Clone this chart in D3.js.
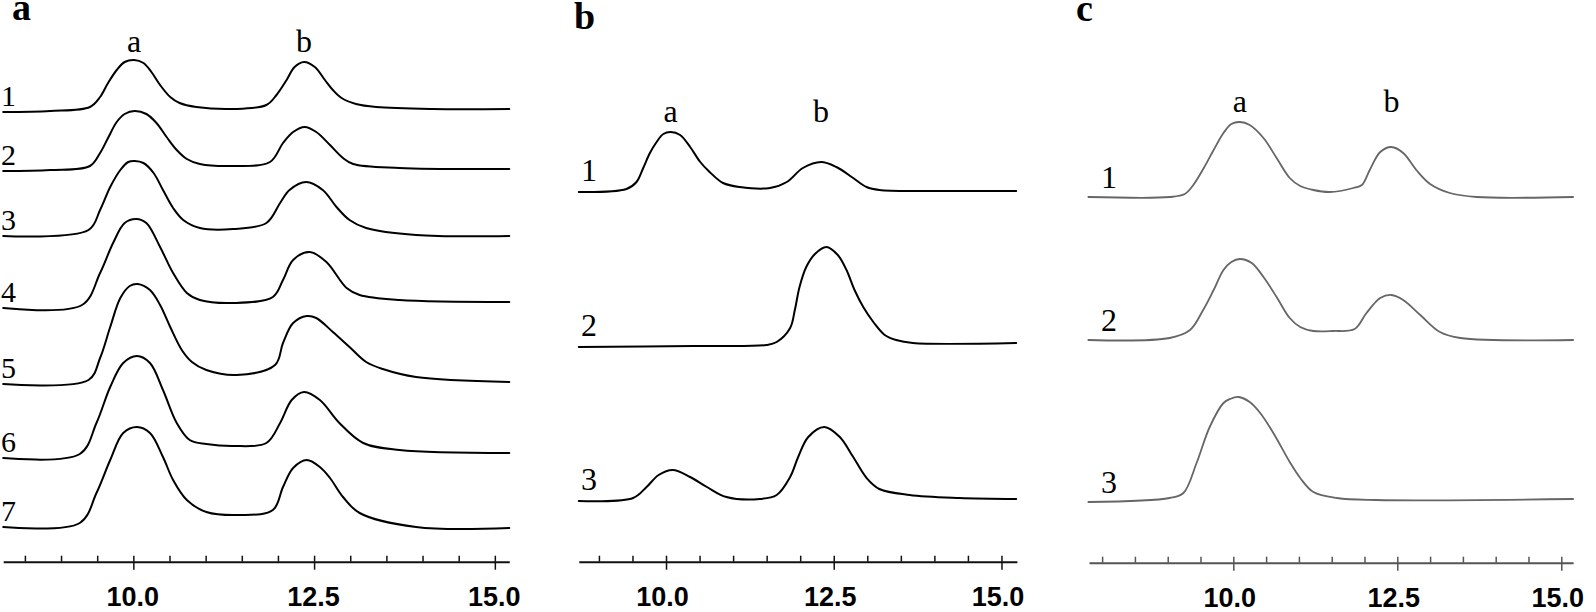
<!DOCTYPE html>
<html>
<head>
<meta charset="utf-8">
<script src="https://cdn.jsdelivr.net/npm/d3@7"></script>
<style>
  html, body { margin: 0; padding: 0; background: #fff; }
  svg { display: block; }
</style>
</head>
<body>
<svg id="chart" width="1596" height="612"></svg>
<script>
// ---------- DATA (retention time in min, detector response) ----------
const peakNames = ["a", "b"];
const tickLabelValues = [10.0, 12.5, 15.0];

const ticksA = [8.5, 9.0, 9.5, 10.0, 10.5, 11.0, 11.5, 12.0, 12.5, 13.0, 13.5, 14.0, 14.5, 15.0];
const ticksB = [9.0, 9.5, 10.0, 10.5, 11.0, 11.5, 12.0, 12.5, 13.0, 13.5, 14.0, 14.5, 15.0];
const ticksC = [8.0, 8.5, 9.0, 9.5, 10.0, 10.5, 11.0, 11.5, 12.0, 12.5, 13.0, 13.5, 14.0, 14.5, 15.0];

const rowsA = ["1", "2", "3", "4", "5", "6", "7"];
const rowsB = ["1", "2", "3"];
const rowsC = ["1", "2", "3"];

// Panel a traces
const a1 = [[8.20,448],[8.85,449],[9.40,453],[9.54,463],[9.65,477],[9.77,490],[9.88,498],[10.01,500],[10.14,497],[10.25,488],[10.37,475],[10.51,463],[10.64,457],[10.87,453],[11.38,451],[11.84,455],[11.98,465],[12.12,480],[12.23,493],[12.36,498],[12.51,493],[12.65,480],[12.76,470],[12.88,462],[13.08,456],[13.36,453],[14.14,451],[15.20,451]];
const a2 = [[8.20,389],[8.85,390],[9.40,394],[9.54,407],[9.65,422],[9.77,438],[9.88,446],[10.02,449],[10.18,446],[10.32,437],[10.46,423],[10.60,410],[10.74,401],[10.92,396],[11.38,394],[11.89,398],[12.07,417],[12.21,428],[12.37,433],[12.53,428],[12.72,415],[12.90,402],[13.04,396],[13.68,392],[15.20,391]];
const a3 = [[8.20,324],[9.38,330],[9.54,350],[9.68,373],[9.82,390],[9.93,398],[10.02,399],[10.14,397],[10.28,387],[10.41,370],[10.55,352],[10.69,340],[10.92,332],[11.38,331],[11.84,337],[12.03,357],[12.16,370],[12.39,378],[12.62,370],[12.81,353],[12.99,340],[13.22,332],[13.91,325],[15.20,324]];
const a4 = [[8.20,252],[9.29,255],[9.54,287],[9.72,317],[9.88,337],[10.04,341],[10.18,337],[10.37,313],[10.55,287],[10.74,267],[10.92,260],[11.38,257],[11.93,263],[12.07,280],[12.21,300],[12.44,308],[12.67,298],[12.95,272],[13.13,265],[13.68,260],[15.20,258]];
const a5 = [[8.20,176],[9.38,180],[9.54,202],[9.68,233],[9.82,262],[9.95,274],[10.06,276],[10.23,270],[10.37,255],[10.51,233],[10.67,210],[10.81,198],[11.01,190],[11.43,185],[11.96,195],[12.07,217],[12.21,237],[12.40,244],[12.53,242],[12.76,228],[12.99,213],[13.22,198],[13.45,191],[13.91,183],[15.20,178]];
const a6 = [[8.20,102],[9.26,106],[9.49,137],[9.68,173],[9.86,197],[10.05,204],[10.23,197],[10.41,170],[10.60,137],[10.78,120],[11.01,116],[11.38,114],[11.84,117],[12.03,137],[12.19,160],[12.36,168],[12.58,160],[12.85,137],[13.18,117],[13.68,110],[15.20,107]];
const a7 = [[8.20,33],[9.26,37],[9.49,67],[9.68,100],[9.86,127],[10.05,133],[10.23,127],[10.41,103],[10.55,80],[10.74,60],[11.01,48],[11.47,45],[11.93,50],[12.07,73],[12.21,92],[12.40,100],[12.58,93],[12.72,82],[12.90,63],[13.13,47],[13.91,33],[15.20,32]];

// Panel b traces
const b1 = [[8.70,368],[9.41,371],[9.56,378],[9.66,392],[9.76,407],[9.86,418],[9.96,426],[10.07,428],[10.21,425],[10.36,413],[10.51,398],[10.65,388],[10.85,377],[11.10,373],[11.55,372],[11.80,378],[12.04,392],[12.31,398],[12.54,393],[12.79,382],[12.99,373],[13.18,370],[13.88,369],[15.22,369]];
const b2 = [[8.70,213],[10.41,214],[11.50,215],[11.65,218],[11.85,232],[11.92,250],[11.99,273],[12.09,293],[12.22,306],[12.39,313],[12.56,305],[12.69,290],[12.81,270],[12.94,253],[13.09,238],[13.26,225],[13.43,220],[13.68,217],[15.22,217]];
const b3 = [[8.70,59],[9.51,62],[9.71,73],[9.89,85],[10.10,90],[10.36,83],[10.61,73],[10.90,63],[11.40,61],[11.65,65],[11.85,83],[11.97,103],[12.12,123],[12.36,133],[12.59,123],[12.79,103],[12.99,82],[13.18,71],[13.63,65],[14.37,62],[15.22,61]];

// Panel c traces
const c1 = [[7.79,363],[9.03,363],[9.26,366],[9.39,375],[9.55,392],[9.70,410],[9.85,427],[9.97,436],[10.10,438],[10.25,435],[10.46,422],[10.66,402],[10.86,382],[11.02,374],[11.22,370],[11.47,368],[11.83,372],[11.96,375],[12.08,390],[12.24,408],[12.41,413],[12.59,407],[12.79,390],[13.00,376],[13.30,367],[13.71,363],[15.18,363]];
const c2 = [[7.79,220],[9.03,222],[9.34,230],[9.54,250],[9.70,270],[9.85,290],[9.97,298],[10.10,301],[10.28,297],[10.46,283],[10.66,263],[10.86,242],[11.02,233],[11.22,229],[11.52,229],[11.85,231],[12.03,247],[12.24,262],[12.41,265],[12.59,260],[12.85,245],[13.15,228],[13.46,222],[15.18,220]];
const c3 = [[7.79,58],[9.03,62],[9.24,67],[9.44,97],[9.64,133],[9.85,157],[9.95,161],[10.08,163],[10.25,158],[10.41,147],[10.61,127],[10.86,98],[11.02,82],[11.22,68],[11.58,62],[12.18,60],[15.18,61]];

// ---------- LAYOUT ----------
const panels = [
  { letter: "a", letterX: 12, letterY: 20, traces: [a1,a2,a3,a4,a5,a6,a7], rows: rowsA, ticks: ticksA,
    domain: [8.2, 15.2], range: [3.2, 509.3], axisY: 561.7, color: "#000", axisColor: "#111", sw: 2,
    rowX: 1, rowGap: 6, rowSize: 30, peakGap: 8, labelDx: -1 },
  { letter: "b", letterX: 574, letterY: 29, traces: [b1,b2,b3], rows: rowsB, ticks: ticksB,
    domain: [8.7, 15.23], range: [578.8, 1016.9], axisY: 561.7, color: "#000", axisColor: "#111", sw: 2,
    rowX: 581, rowGap: 11, rowSize: 32, peakGap: 10, labelDx: -4 },
  { letter: "c", letterX: 1076, letterY: 21, traces: [c1,c2,c3], rows: rowsC, ticks: ticksC,
    domain: [7.8, 15.18], range: [1089, 1573.1], axisY: 562.7, color: "#666", axisColor: "#555", sw: 1.8,
    rowX: 1101, rowGap: 9, rowSize: 32, peakGap: 10, labelDx: -4 }
];

const svg = d3.select("#chart");
const y = d3.scaleLinear().domain([0, 560]).range([560, 0]);
const serif = "'Liberation Serif', 'Times New Roman', serif";

panels.forEach(p => {
  const x = d3.scaleLinear().domain(p.domain).range(p.range);
  const g = svg.append("g");

  const line = d3.line().x(d => x(d[0])).y(d => y(d[1])).curve(d3.curveCatmullRom.alpha(0.5));

  g.selectAll("path.trace").data(p.traces).join("path")
    .attr("class", "trace")
    .attr("d", line)
    .attr("fill", "none")
    .attr("stroke", p.color)
    .attr("stroke-width", p.sw)
    .attr("stroke-linejoin", "round")
    .attr("stroke-linecap", "round");

  // row numbers
  g.selectAll("text.row").data(p.traces).join("text")
    .attr("class", "row")
    .attr("x", p.rowX)
    .attr("y", d => y(d[0][1]) - p.rowGap)
    .attr("font-family", serif)
    .attr("font-size", p.rowSize)
    .attr("fill", "#000")
    .text((d, i) => p.rows[i]);

  // peak labels over first trace
  const first = p.traces[0];
  const split = 11.3;
  const pa = first.filter(d => d[0] < split).reduce((m, d) => d[1] > m[1] ? d : m);
  const pb = first.filter(d => d[0] > split).reduce((m, d) => d[1] > m[1] ? d : m);
  const top = y(Math.max(pa[1], pb[1])) - p.peakGap;
  g.selectAll("text.peak").data([pa, pb]).join("text")
    .attr("class", "peak")
    .attr("x", d => x(d[0]))
    .attr("y", top)
    .attr("text-anchor", "middle")
    .attr("font-family", serif)
    .attr("font-size", 32)
    .attr("fill", "#000")
    .text((d, i) => peakNames[i]);

  // panel letter
  svg.append("text")
    .attr("x", p.letterX).attr("y", p.letterY)
    .attr("font-family", serif)
    .attr("font-weight", "bold")
    .attr("font-size", 38)
    .attr("fill", "#000")
    .text(p.letter);

  // axis: minor ticks upward, major ticks crossing + labels
  const minor = d3.axisTop(x).tickValues(p.ticks).tickSize(6).tickSizeOuter(0).tickFormat("");
  const gMinor = g.append("g").attr("transform", `translate(0,${p.axisY})`).call(minor);
  gMinor.select(".domain").attr("stroke", p.axisColor).attr("stroke-width", 2);
  gMinor.selectAll(".tick line").attr("stroke", p.axisColor).attr("stroke-width", 1.5);

  const major = d3.axisBottom(x).tickValues(tickLabelValues).tickSize(8).tickSizeOuter(0)
    .tickFormat(d3.format(".1f"));
  const gMajor = g.append("g").attr("transform", `translate(0,${p.axisY})`).call(major);
  gMajor.select(".domain").remove();
  gMajor.selectAll(".tick line").attr("stroke", p.axisColor).attr("stroke-width", 1.5);
  gMajor.selectAll(".tick text")
    .attr("y", 44).attr("dy", 0).attr("dx", p.labelDx)
    .attr("fill", "#000")
    .style("font-family", "'Liberation Sans', Arial, sans-serif")
    .style("font-weight", "bold")
    .style("font-size", "27px");
});
</script>
</body>
</html>
